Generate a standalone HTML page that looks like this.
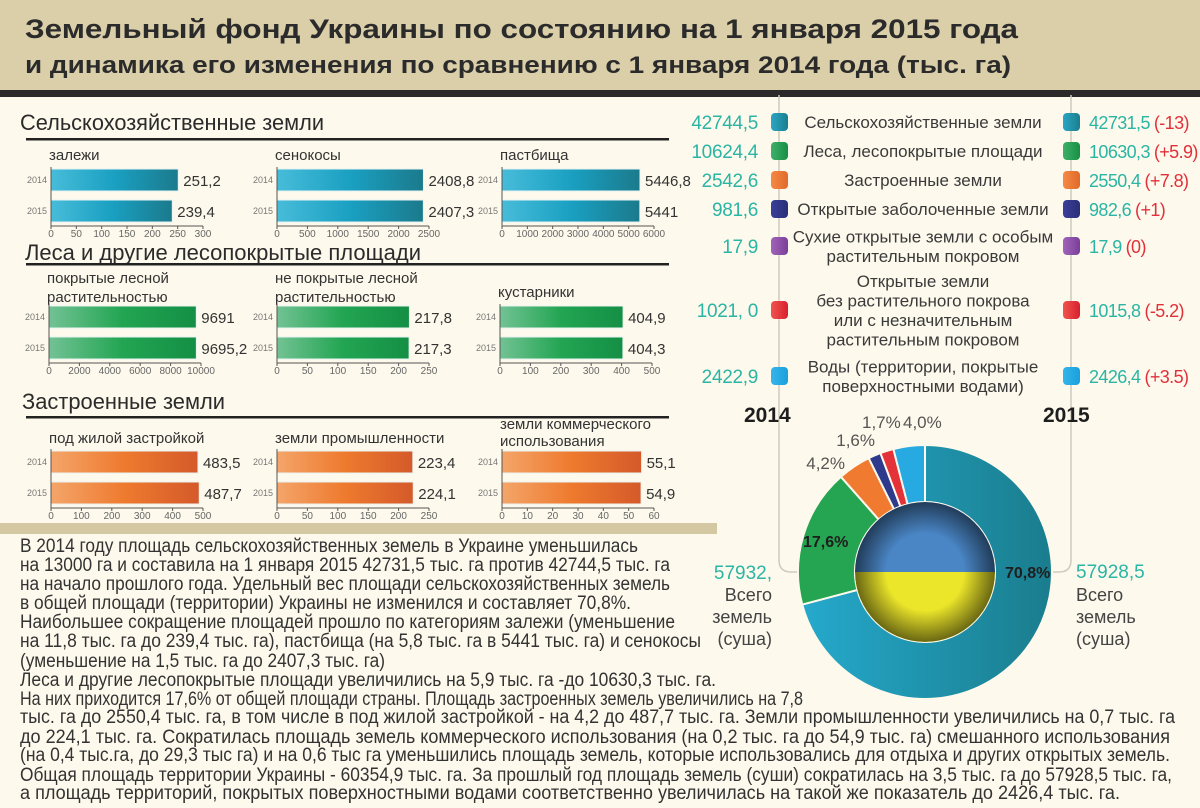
<!DOCTYPE html>
<html lang="ru"><head><meta charset="utf-8"><title>Земельный фонд Украины</title>
<style>
html,body{margin:0;padding:0;background:#fdf9ec;}
svg{display:block;font-family:"Liberation Sans","DejaVu Sans",sans-serif;}
.t{fill:#2b2b2b}
.teal{fill:#2bb5a4}
.red{fill:#e2303a}
</style></head>
<body>
<svg id="chart" width="1200" height="808" viewBox="0 0 1200 808" xmlns="http://www.w3.org/2000/svg">
<defs>
<linearGradient id="gBlue" x1="0" x2="1"><stop offset="0" stop-color="#47bcd9"/><stop offset="0.5" stop-color="#1aa0c2"/><stop offset="1" stop-color="#1b7a8c"/></linearGradient>
<linearGradient id="gGreen" x1="0" x2="1"><stop offset="0" stop-color="#72c294"/><stop offset="0.5" stop-color="#22a552"/><stop offset="1" stop-color="#148f45"/></linearGradient>
<linearGradient id="gOrange" x1="0" x2="1"><stop offset="0" stop-color="#f4a56a"/><stop offset="0.5" stop-color="#ee7a2e"/><stop offset="1" stop-color="#d45a2a"/></linearGradient>
<linearGradient id="gAgri" x1="0" x2="1"><stop offset="0" stop-color="#25a9cc"/><stop offset="1" stop-color="#1a7d8d"/></linearGradient>
<radialGradient id="gShade" cx="0.5" cy="0.5" r="0.5"><stop offset="0.55" stop-color="#000" stop-opacity="0"/><stop offset="1" stop-color="#000" stop-opacity="0.55"/></radialGradient>
</defs>
<rect x="0" y="0" width="1200" height="808" fill="#fdf9ec"/>
<rect x="0" y="0" width="1200" height="90" fill="#dacfa9"/>
<rect x="0" y="90" width="1200" height="7" fill="#2a2a2a"/>
<text x="25" y="38" font-size="27" font-weight="bold" class="t" textLength="993" lengthAdjust="spacingAndGlyphs">Земельный фонд Украины по состоянию на 1 января 2015 года</text>
<text x="25" y="73" font-size="24" font-weight="bold" class="t" textLength="986" lengthAdjust="spacingAndGlyphs">и динамика его изменения по сравнению с 1 января 2014 года (тыс. га)</text>

<text x="20" y="130" font-size="22" class="t" textLength="304" lengthAdjust="spacingAndGlyphs">Сельскохозяйственные земли</text>
<rect x="26" y="138" width="643" height="2.5" fill="#222"/>
<text x="25" y="260" font-size="22" class="t" textLength="396" lengthAdjust="spacingAndGlyphs">Леса и другие лесопокрытые площади</text>
<rect x="26" y="263" width="643" height="2.5" fill="#222"/>
<text x="22" y="409" font-size="22" class="t" textLength="203" lengthAdjust="spacingAndGlyphs">Застроенные земли</text>
<rect x="26" y="416" width="643" height="2.5" fill="#222"/>

<g id="bars"></g>

<rect x="0" y="523" width="717" height="11" fill="#d4c8a2"/>

<g id="bodytext" font-size="19" fill="#333">
<text x="20" y="552" textLength="618" lengthAdjust="spacingAndGlyphs">В 2014 году площадь сельскохозяйственных земель в Украине уменьшилась</text>
<text x="20" y="571" textLength="650" lengthAdjust="spacingAndGlyphs">на 13000 га и составила на 1 января 2015 42731,5 тыс. га против 42744,5 тыс. га</text>
<text x="20" y="590" textLength="650" lengthAdjust="spacingAndGlyphs">на начало прошлого года. Удельный вес площади сельскохозяйственных земель</text>
<text x="20" y="609" textLength="611" lengthAdjust="spacingAndGlyphs">в общей площади (территории) Украины не изменился и составляет 70,8%.</text>
<text x="20" y="628" textLength="655" lengthAdjust="spacingAndGlyphs">Наибольшее сокращение площадей прошло по категориям залежи (уменьшение</text>
<text x="20" y="647" textLength="681" lengthAdjust="spacingAndGlyphs">на 11,8 тыс. га до 239,4 тыс. га), пастбища (на 5,8 тыс. га в 5441 тыс. га) и сенокосы</text>
<text x="20" y="667" textLength="365" lengthAdjust="spacingAndGlyphs">(уменьшение на 1,5 тыс. га до 2407,3 тыс. га)</text>
<text x="20" y="686" textLength="696" lengthAdjust="spacingAndGlyphs">Леса и другие лесопокрытые площади увеличились на 5,9 тыс. га -до 10630,3 тыс. га.</text>
<text x="20" y="705" textLength="783" lengthAdjust="spacingAndGlyphs">На них приходится 17,6% от общей площади страны. Площадь застроенных земель увеличились на 7,8</text>
<text x="20" y="723" textLength="1155" lengthAdjust="spacingAndGlyphs">тыс. га до 2550,4 тыс. га, в том числе в под жилой застройкой - на 4,2 до 487,7 тыс. га. Земли промышленности увеличились на 0,7 тыс. га</text>
<text x="20" y="743" textLength="1150" lengthAdjust="spacingAndGlyphs">до 224,1 тыс. га. Сократилась площадь земель коммерческого использования (на 0,2 тыс. га до 54,9 тыс. га) смешанного использования</text>
<text x="20" y="761" textLength="1150" lengthAdjust="spacingAndGlyphs">(на 0,4 тыс.га, до 29,3 тыс га) и на 0,6 тыс га уменьшились площадь земель, которые использовались для отдыха и других открытых земель.</text>
<text x="20" y="781" textLength="1152" lengthAdjust="spacingAndGlyphs">Общая площадь территории Украины - 60354,9 тыс. га. За прошлый год площадь земель (суши) сократилась на 3,5 тыс. га до 57928,5 тыс. га,</text>
<text x="20" y="799" textLength="1100" lengthAdjust="spacingAndGlyphs">а площадь территорий, покрытых поверхностными водами соответственно увеличилась на такой же показатель до 2426,4 тыс. га.</text>
</g>

<path d="M779 95 V560 Q779 572 791 572 H802" fill="none" stroke="#cfcabb" stroke-width="1.5"/>
<path d="M1071 95 V560 Q1071 572 1059 572 H1050" fill="none" stroke="#cfcabb" stroke-width="1.5"/>

<g id="legend"></g>

<text x="744" y="422" font-size="21" font-weight="bold" fill="#1e1e1e">2014</text>
<text x="1043" y="422" font-size="21" font-weight="bold" fill="#1e1e1e">2015</text>

<g id="donut"></g>

<text x="772" y="579" text-anchor="end" font-size="19" class="teal">57932,</text>
<g font-size="18" fill="#444" text-anchor="end">
<text x="772" y="601">Всего</text><text x="772" y="623">земель</text><text x="772" y="645">(суша)</text></g>
<text x="1076" y="578" font-size="19" class="teal">57928,5</text>
<g font-size="18" fill="#444">
<text x="1076" y="601">Всего</text><text x="1076" y="623">земель</text><text x="1076" y="645">(суша)</text></g>

<script>
// ---- Bar chart data ----
const barLabels = [["залежи"],["сенокосы"],["пастбища"],["покрытые лесной","растительностью"],["не покрытые лесной","растительностью"],["кустарники"],["под жилой застройкой"],["земли промышленности"],["земли коммерческого","использования"]];
const years = ["2014","2015"];
const vals2014 = [251.2, 2408.8, 5446.8, 9691, 217.8, 404.9, 483.5, 223.4, 55.1];
const vals2015 = [239.4, 2407.3, 5441, 9695.2, 217.3, 404.3, 487.7, 224.1, 54.9];
const axisMax = [300, 2500, 6000, 10000, 250, 500, 500, 250, 60];
const tickStep = [50, 500, 1000, 2000, 50, 100, 100, 50, 10];

// ---- Legend / donut data ----
const catNames = [["Сельскохозяйственные земли"],["Леса, лесопокрытые площади"],["Застроенные земли"],["Открытые заболоченные земли"],["Сухие открытые земли с  особым","растительным покровом"],["Открытые земли","без растительного покрова","или с незначительным","растительным покровом"],["Воды (территории, покрытые","поверхностными водами)"]];
const legend2014 = ["42744,5","10624,4","2542,6","981,6","17,9","1021, 0","2422,9"];
const legend2015 = ["42731,5","10630,3","2550,4","982,6","17,9","1015,8","2426,4"];
const legendDelta = ["(-13)","(+5.9)","(+7.8)","(+1)","(0)","(-5.2)","(+3.5)"];
const sharePct = [70.8, 17.6, 4.2, 1.6, 1.7, 4.0];
const shareLabels = ["70,8%","17,6%","4,2%","1,6%","1,7%","4,0%"];

const NS = "http://www.w3.org/2000/svg";
function mk(tag, attrs, parent, text){
  const e = document.createElementNS(NS, tag);
  for (const k in attrs) e.setAttribute(k, attrs[k]);
  if (text !== undefined) e.textContent = text;
  parent.appendChild(e);
  return e;
}
const fmt = v => String(v).replace('.', ',');

// ---- layout (positions, not data) ----
const rowTop = [169, 306, 451];
const colX = [[51,277,502],[49,277,500],[51,277,502]];
const plotW = 152, barH = 22, barGap = 31;
const fills = ["url(#gBlue)","url(#gGreen)","url(#gOrange)"];
const labelY = [[[160],[160],[160]],[[283,302],[283,302],[297]],[[443],[443],[429,446]]];

const barsG = document.getElementById('bars');
for (let i = 0; i < barLabels.length; i++) {
  const row = Math.floor(i/3), col = i%3;
  const x0 = colX[row][col], top = rowTop[row];
  const xs = v => x0 + v / axisMax[i] * plotW;
  const g = mk('g', {}, barsG);
  
  
  barLabels[i].forEach((ln, k) => {
    const t = mk('text', {x: x0 - 2, y: labelY[row][col][k], 'font-size': 15, fill: '#333'}, g, ln);
    
    
  });
  [vals2014[i], vals2015[i]].forEach((v, k) => {
    const y = top + k*barGap;
    const r = mk('rect', {x: x0, y: y, width: xs(v)-x0, height: barH, fill: fills[row], stroke: '#e9f3f1', 'stroke-width': 1}, g);
    
    
    const vt = mk('text', {x: xs(v)+5, y: y+barH/2+6, 'font-size': 15, fill: '#333'}, g, fmt(v));
    
    
    const yl = mk('text', {x: x0-4, y: y+barH/2+3, 'font-size': 9, fill: '#777', 'text-anchor': 'end'}, g, years[k]);
    
    
  });
  const axisY = top + barGap + barH + 4;
  mk('line', {x1: x0, x2: x0, y1: top-2, y2: axisY, stroke: '#555', 'stroke-width': 1}, g);
  const ax = mk('line', {x1: x0, x2: x0+plotW, y1: axisY, y2: axisY, stroke: '#555', 'stroke-width': 1}, g);
  
  
  for (let v = 0; v <= axisMax[i] + 1e-9; v += tickStep[i]) {
    mk('line', {x1: xs(v), x2: xs(v), y1: axisY, y2: axisY+3, stroke: '#555', 'stroke-width': 1}, g);
    const tl = mk('text', {x: xs(v), y: axisY+11, 'font-size': 10, fill: '#666', 'text-anchor': 'middle'}, g, String(v));
    
    
  }
}

// ---- legend ----
const legColors = [["#2aa6c4","#1a7f8e"],["#3fb06a","#178f44"],["#f48b45","#e06a2a"],["#3a3f9a","#2a2f78"],["#a064b8","#7b3f99"],["#f0554e","#d8202f"],["#35b5ea","#1aa0dc"]];
const markerY = [122, 151, 180, 209, 246, 310, 376];
const legG = document.getElementById('legend');
catNames.forEach((lines, i) => {
  const g = mk('g', {}, legG);
  
  
  const gid = 'lg' + i;
  const lgd = mk('linearGradient', {id: gid, x1: 0, x2: 1}, g);
  mk('stop', {offset: 0, 'stop-color': legColors[i][0]}, lgd);
  mk('stop', {offset: 1, 'stop-color': legColors[i][1]}, lgd);
  const my = markerY[i];
  [771, 1063].forEach(mx => {
    const m = mk('rect', {x: mx, y: my-9, width: 17, height: 18, rx: 4, fill: 'url(#' + gid + ')'}, g);
    
    
  });
  const v1 = mk('text', {x: 758, y: my+7, 'font-size': 19, 'text-anchor': 'end', class: 'teal', 'letter-spacing': '-0.3'}, g, legend2014[i]);
  
  
  const v2 = mk('text', {x: 1089, y: my+7, 'font-size': 18, class: 'teal', 'letter-spacing': '-0.6'}, g);
  
  
  mk('tspan', {}, v2, legend2015[i]);
  mk('tspan', {class: 'red', dx: 4}, v2, legendDelta[i]);
  const lh = 19.5;
  const y0 = my + 6 - (lines.length-1)*lh/2;
  lines.forEach((ln, k) => {
    const t = mk('text', {x: 923, y: y0 + k*lh, 'font-size': 17, 'text-anchor': 'middle', fill: '#3a3a3a'}, g, ln);
    
    
  });
});

// ---- donut ----
const cx = 925, cy = 572, R = 127, r0 = 70;
const sliceColors = ["url(#gAgri)", "#25a552", "#f07b30", "#2e3a8c", "#e3323a", "#27a9e1"];
const donutG = document.getElementById('donut');
const total = sharePct.reduce((a, b) => a + b, 0);
function pt(rad, a){ return [cx + rad*Math.sin(a), cy - rad*Math.cos(a)]; }
let acc = 0;
const labelPos = [[1005, 578, 'start'], [803, 547, 'start'], [845, 469, 'end'], [875, 446, 'end'], [862, 428, 'start'], [903, 428, 'start']];
sharePct.forEach((p, i) => {
  const a0 = acc / total * 2*Math.PI; acc += p;
  const a1 = acc / total * 2*Math.PI;
  const large = (a1 - a0) > Math.PI ? 1 : 0;
  const [x1, y1] = pt(R, a0), [x2, y2] = pt(R, a1), [x3, y3] = pt(r0, a1), [x4, y4] = pt(r0, a0);
  const d = `M${x1},${y1} A${R},${R} 0 ${large} 1 ${x2},${y2} L${x3},${y3} A${r0},${r0} 0 ${large} 0 ${x4},${y4} Z`;
  const s = mk('path', {d: d, fill: sliceColors[i], stroke: '#fdf9ec', 'stroke-width': 2}, donutG);
  
  
  const bold = i < 2;
  const lp = labelPos[i];
  const t = mk('text', {x: lp[0], y: lp[1], 'font-size': bold ? 16 : 17, 'font-weight': bold ? 'bold' : 'normal', fill: bold ? '#1e1e1e' : '#555', 'text-anchor': lp[2]}, donutG, shareLabels[i]);
  
  
});
// flag center
const cp = mk('clipPath', {id: 'flagClip'}, donutG);
mk('circle', {cx: cx, cy: cy, r: r0}, cp);
const flag = mk('g', {'clip-path': 'url(#flagClip)'}, donutG);


mk('rect', {x: cx-r0, y: cy-r0, width: 2*r0, height: r0, fill: '#4a86c6'}, flag);
mk('rect', {x: cx-r0, y: cy, width: 2*r0, height: r0, fill: '#ece62a'}, flag);
mk('circle', {cx: cx, cy: cy, r: r0, fill: 'url(#gShade)'}, flag);
</script>
</svg>
</body></html>
